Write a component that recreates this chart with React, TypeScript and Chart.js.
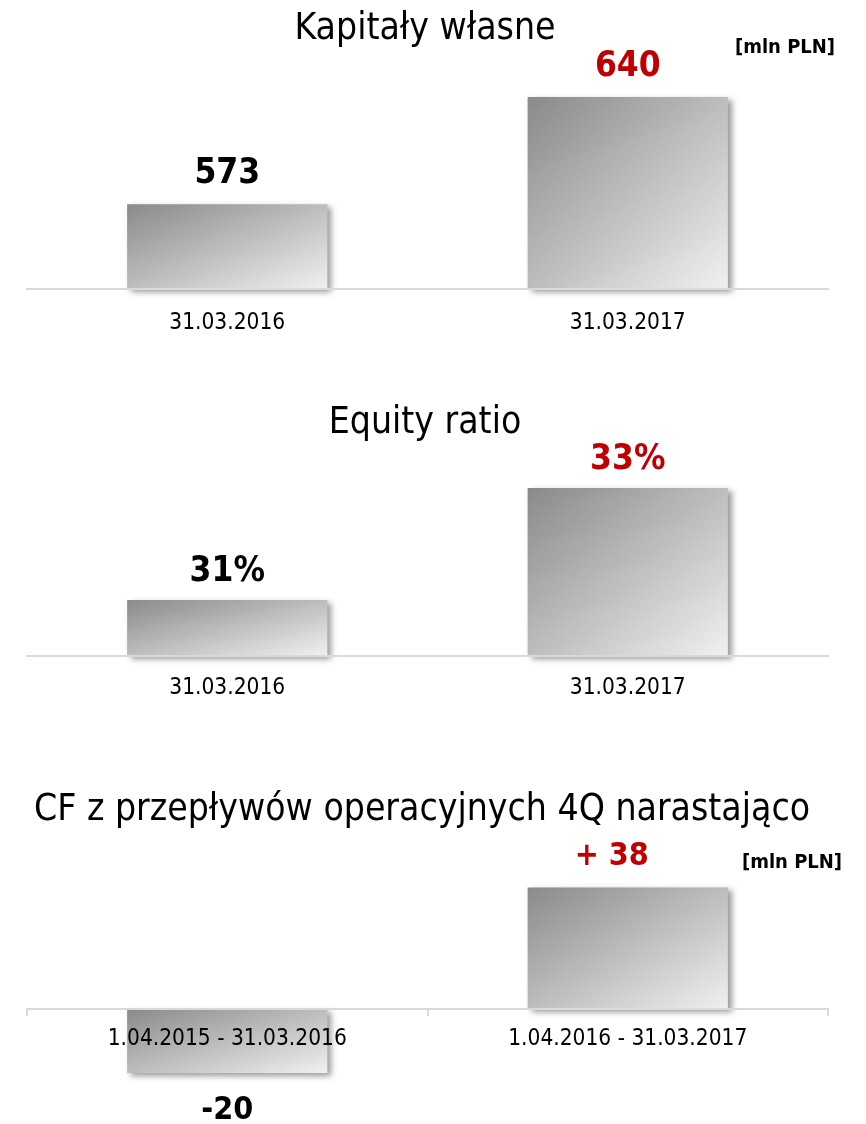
import React, { useEffect, useRef } from 'react';
import { Chart, registerables } from 'chart.js';

Chart.register(...registerables);

const FONT = "'DejaVu Sans Condensed', 'DejaVu Sans', sans-serif";

// ---- data ----
const equityCategories = ['31.03.2016', '31.03.2017'];
const equityValues = [573, 640];

const ratioCategories = ['31.03.2016', '31.03.2017'];
const ratioValues = [31, 33];

const cfCategories = ['1.04.2015 - 31.03.2016', '1.04.2016 - 31.03.2017'];
const cfValues = [-20, 38];

const labelColors = ['#000000', '#c00000'];

// value-axis ranges [min, max]; bars start at min (or at 0 for the CF chart)
const equityRange = [520, 670];
const ratioRange = [30, 34];
const cfRange = [-25, 45];

const titles = ['Kapitały własne', 'Equity ratio', 'CF z przepływów operacyjnych 4Q narastająco'];
const unitText = '[mln PLN]';

type PanelProps = {
  top: number;
  height: number;
  title: string;
  titleX: number;
  titleY: number;
  unitX?: number;
  unitY?: number;
  categories: string[];
  values: number[];
  range: number[];
  fmt: (v: number) => string;
  padTop: number;
  padBottom: number;
  atZero: boolean;
  tickPad: number;
  labelSize: number;
  labelAbove: number;
  labelBelow: number;
  labelDx: number[];
};

function Panel(p: PanelProps) {
  const ref = useRef<HTMLCanvasElement | null>(null);

  useEffect(() => {
    const canvas = ref.current;
    if (!canvas) return;

    const baseValue = p.atZero ? 0 : p.range[0];

    const shadowPlugin = {
      id: 'barShadow',
      beforeDatasetsDraw(chart: any) {
        const ctx = chart.ctx;
        ctx.save();
        ctx.shadowColor = 'rgba(0,0,0,0.4)';
        ctx.shadowBlur = 6;
        ctx.shadowOffsetX = 4;
        ctx.shadowOffsetY = 3;
      },
      afterDatasetsDraw(chart: any) {
        chart.ctx.restore();
      },
    };

    const textPlugin = {
      id: 'texts',
      afterDraw(chart: any) {
        const ctx = chart.ctx;
        ctx.save();
        ctx.textAlign = 'center';
        ctx.textBaseline = 'middle';
        ctx.fillStyle = '#000';
        ctx.font = `37px ${FONT}`;
        ctx.fillText(p.title, p.titleX, p.titleY);
        if (p.unitX !== undefined && p.unitY !== undefined) {
          ctx.font = `bold 20px ${FONT}`;
          ctx.fillText(unitText, p.unitX, p.unitY);
        }
        const meta = chart.getDatasetMeta(0);
        meta.data.forEach((el: any, i: number) => {
          const { x, y } = el.getProps(['x', 'y'], true);
          const v = p.values[i];
          ctx.font = `bold ${p.labelSize}px ${FONT}`;
          ctx.fillStyle = labelColors[i];
          const ly = v >= 0 ? y - p.labelAbove : y + p.labelBelow;
          ctx.fillText(p.fmt(v), x + (p.labelDx[i] || 0), ly);
        });
        ctx.restore();
      },
    };

    const values = p.values;
    const xScale: any = {
      type: 'category',
      offset: true,
      grid: {
        display: true,
        drawOnChartArea: false,
        drawTicks: p.atZero,
        tickLength: 6,
        color: '#d9d9d9',
        lineWidth: 2,
        offset: true,
      },
      border: { display: true, color: '#d9d9d9', width: 2, z: 1 },
      ticks: {
        color: '#000',
        font: { family: FONT, size: 22.5 },
        padding: p.tickPad,
        maxRotation: 0,
        autoSkip: false,
        z: 1,
      },
      afterFit: (s: any) => {
        s.height = 50;
      },
    };
    if (p.atZero) xScale.position = { y: 0 };

    const chart = new Chart(canvas, {
      type: 'bar',
      data: {
        labels: p.categories,
        datasets: [
          {
            data: values,
            base: baseValue,
            clip: false as any,
            borderWidth: 0,
            categoryPercentage: 1,
            barPercentage: 0.5,
            backgroundColor: (c: any) => {
              const chart = c.chart;
              const xs = chart.scales && chart.scales.x;
              const ys = chart.scales && chart.scales.y;
              if (!xs || !ys || c.dataIndex === undefined || !chart.chartArea) return '#bbbbbb';
              const v = values[c.dataIndex];
              const cx = xs.getPixelForValue(c.dataIndex);
              const w = ((chart.chartArea.right - chart.chartArea.left) / values.length) * 0.5;
              const base = ys.getPixelForValue(baseValue);
              const yv = ys.getPixelForValue(v);
              const t = Math.min(base, yv);
              const h = Math.max(1, Math.abs(base - yv));
              const l = cx - w / 2;
              // isolines parallel to the anti-diagonal (shape-scaled diagonal gradient)
              const k = (2 * w * h) / (w * w + h * h);
              const g = chart.ctx.createLinearGradient(l, t, l + h * k, t + w * k);
              g.addColorStop(0, '#8a8a8a');
              g.addColorStop(1, '#f0f0f0');
              return g;
            },
          } as any,
        ],
      },
      options: {
        responsive: false,
        animation: false,
        devicePixelRatio: 1,
        layout: { padding: { top: p.padTop, bottom: p.padBottom, left: 27, right: 38 } },
        plugins: {
          legend: { display: false },
          tooltip: { enabled: false },
          title: { display: false },
        },
        scales: {
          x: xScale,
          y: { display: false, min: p.range[0], max: p.range[1] },
        },
      },
      plugins: [shadowPlugin, textPlugin],
    });

    return () => {
      chart.destroy();
    };
  }, []);

  return (
    <canvas
      ref={ref}
      width={866}
      height={p.height}
      style={{ position: 'absolute', left: 0, top: p.top, width: 866, height: p.height, display: 'block' }}
    />
  );
}

export default function App() {
  return (
    <div style={{ position: 'absolute', left: 0, top: 0, width: 866, height: 1124, background: '#fff' }}>
      <Panel
        top={0}
        height={345}
        title={titles[0]}
        titleX={425}
        titleY={29}
        unitX={785}
        unitY={48}
        categories={equityCategories}
        values={equityValues}
        range={equityRange}
        fmt={(v) => String(v)}
        padTop={49}
        padBottom={6}
        atZero={false}
        tickPad={21}
        labelSize={35}
        labelAbove={30}
        labelBelow={38}
        labelDx={[0, 0]}
      />
      <Panel
        top={345}
        height={375}
        title={titles[1]}
        titleX={425}
        titleY={78}
        categories={ratioCategories}
        values={ratioValues}
        range={ratioRange}
        fmt={(v) => v + '%'}
        padTop={87}
        padBottom={14}
        atZero={false}
        tickPad={19}
        labelSize={35}
        labelAbove={28}
        labelBelow={38}
        labelDx={[0, 0]}
      />
      <Panel
        top={720}
        height={404}
        title={titles[2]}
        titleX={422}
        titleY={90}
        unitX={792}
        unitY={143}
        categories={cfCategories}
        values={cfValues}
        range={cfRange}
        fmt={(v) => (v > 0 ? '+ ' + v : String(v))}
        padTop={145}
        padBottom={35}
        atZero={true}
        tickPad={11}
        labelSize={32}
        labelAbove={31}
        labelBelow={38}
        labelDx={[0, -16]}
      />
    </div>
  );
}
